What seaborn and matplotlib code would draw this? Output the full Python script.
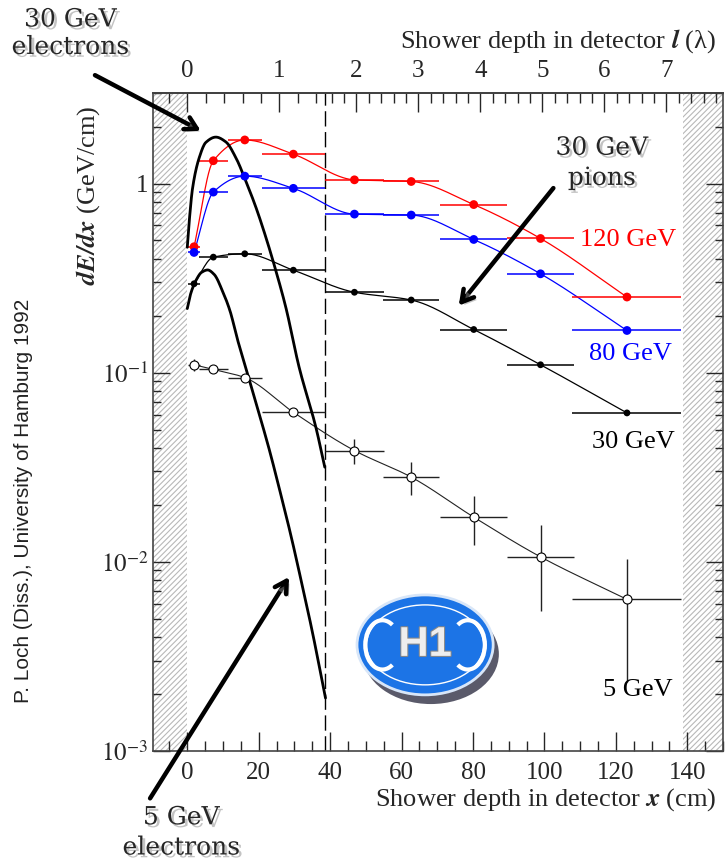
import numpy as np
import pandas as pd
import matplotlib
matplotlib.use('Agg')
import matplotlib.pyplot as plt
import matplotlib.patheffects as pe
from matplotlib.patches import Ellipse, Arc
from matplotlib.ticker import (FixedLocator, FixedFormatter, MultipleLocator,
                               AutoMinorLocator, LogLocator, NullFormatter)
import seaborn as sns

# pion data (bin centres in cm, half bin widths)
depth = [1.9, 7.3, 16.1, 29.7, 46.8, 62.7, 80.2, 98.9, 123.1]
depth_err = [1.75, 4.0, 4.75, 8.85, 8.15, 7.8, 9.45, 9.25, 15.25]
pion_120 = [0.463, 1.32, 1.70, 1.43, 1.046, 1.025, 0.774, 0.512, 0.251]
pion_80 = [0.432, 0.901, 1.094, 0.943, 0.689, 0.681, 0.506, 0.333, 0.167]
pion_30 = [0.295, 0.408, 0.425, 0.348, 0.266, 0.242, 0.169, 0.110, 0.0612]
pion_5 = [0.110, 0.104, 0.0941, 0.0617, 0.0387, 0.028, 0.0172, 0.0106, 0.00632]
pion_5_err = [0.008, 0.003, 0.004, 0.002, 0.0057, 0.0055, 0.005, 0.0051, 0.004]

# electron shower curves
elec30_x = [0, 0.56, 1.5, 3.35, 5.2, 8.0, 10.8, 13.6, 16.4, 19.2, 22.0, 24.8, 27.6, 31.3, 36.0, 38.5]
elec30_y = [0.46, 0.635, 0.95, 1.37, 1.65, 1.76, 1.66, 1.37, 1.03, 0.75, 0.52, 0.346, 0.221, 0.107, 0.0514, 0.0316]
elec5_x = [0, 1, 2.5, 4, 5.7, 7.5, 10, 12, 14, 16, 18, 20, 23, 26, 29, 32, 35, 38.7]
elec5_y = [0.218, 0.263, 0.309, 0.339, 0.349, 0.331, 0.266, 0.211, 0.151, 0.112, 0.0832,
           0.0617, 0.0389, 0.0234, 0.0138, 0.00776, 0.00427, 0.0019]

lam_ticks = [0, 1, 2, 3, 4, 5, 6, 7]
y_ticks = [1e-3, 1e-2, 1e-1, 1]
y_tick_labels = ['$10^{-3}$', '$10^{-2}$', '$10^{-1}$', '1']


def pchip(x, y, n=300):
    x = np.asarray(x, float)
    y = np.asarray(y, float)
    h = np.diff(x)
    d = np.diff(y) / h
    m = np.empty_like(y)
    m[0], m[-1] = d[0], d[-1]
    for k in range(1, len(x) - 1):
        if d[k - 1] * d[k] <= 0:
            m[k] = 0.0
        else:
            w1 = 2 * h[k] + h[k - 1]
            w2 = h[k] + 2 * h[k - 1]
            m[k] = (w1 + w2) / (w1 / d[k - 1] + w2 / d[k])
    xs = np.linspace(x[0], x[-1], n)
    i = np.clip(np.searchsorted(x, xs) - 1, 0, len(x) - 2)
    t = (xs - x[i]) / h[i]
    ys = ((2 * t**3 - 3 * t**2 + 1) * y[i] + (t**3 - 2 * t**2 + t) * h[i] * m[i]
          + (-2 * t**3 + 3 * t**2) * y[i + 1] + (t**3 - t**2) * h[i] * m[i + 1])
    return xs, ys


def log_curve(x, y):
    xs, ly = pchip(x, np.log10(y))
    return xs, 10**ly


def to_lam(x):
    x = np.asarray(x, float)
    return np.where(x < 38.7, x / 25.8, 1.5 + (x - 38.7) / 17.35)


def to_cm(l):
    l = np.asarray(l, float)
    return np.where(l < 1.5, l * 25.8, 38.7 + (l - 1.5) * 17.35)


sns.set_theme(style='ticks')
plt.rcParams['font.family'] = ['Liberation Serif', 'DejaVu Serif']
plt.rcParams['mathtext.fontset'] = 'stix'
plt.rcParams['hatch.color'] = '#b8b8b8'
plt.rcParams['hatch.linewidth'] = 0.8

fig = plt.figure(figsize=(7.25, 8.64), dpi=100)
ax = fig.add_axes([0.2115, 0.1311, 0.7858, 0.7609])
ax.set_yscale('log')
ax.set_xlim(-9.5, 150)
ax.set_ylim(1e-3, 3)

# hatched dead regions
ax.axvspan(-9.5, 0, facecolor='none', edgecolor='#b8b8b8', hatch='//////', lw=0, zorder=0)
ax.axvspan(138.8, 150, facecolor='none', edgecolor='#b8b8b8', hatch='//////', lw=0, zorder=0)
ax.axvline(38.7, color='black', lw=1.0, dashes=(11, 4), zorder=1)

df = pd.DataFrame({
    'depth': depth * 3,
    'dedx': pion_120 + pion_80 + pion_30,
    'energy': ['120 GeV'] * len(depth) + ['80 GeV'] * len(depth) + ['30 GeV'] * len(depth),
})
colors = {'120 GeV': '#ff0000', '80 GeV': '#0000ff', '30 GeV': '#000000'}

for name, grp in df.groupby('energy'):
    c = colors[name]
    xs, ys = log_curve(grp['depth'], grp['dedx'])
    sns.lineplot(x=xs, y=ys, ax=ax, color=c, lw=0.9, estimator=None, sort=False, zorder=2)
    ax.errorbar(grp['depth'], grp['dedx'], xerr=depth_err, fmt='none', ecolor=c, elinewidth=1.1, zorder=3)

sns.scatterplot(data=df[df['energy'] != '30 GeV'], x='depth', y='dedx', hue='energy',
                palette=colors, s=40, edgecolor='none', legend=False, ax=ax, zorder=4)
sns.scatterplot(data=df[df['energy'] == '30 GeV'], x='depth', y='dedx', color='black',
                s=24, edgecolor='none', legend=False, ax=ax, zorder=4)

# 5 GeV pions
xs, ys = log_curve(depth, pion_5)
sns.lineplot(x=xs, y=ys, ax=ax, color='#222222', lw=0.8, estimator=None, sort=False, zorder=2)
ax.errorbar(depth, pion_5, xerr=depth_err, yerr=pion_5_err, fmt='none', ecolor='#222222',
            elinewidth=1.0, zorder=3)
sns.scatterplot(x=depth, y=pion_5, ax=ax, s=42, color='white', edgecolor='black',
                linewidth=0.8, zorder=5)

# electron curves
xs, ys = log_curve(elec30_x, elec30_y)
sns.lineplot(x=xs, y=ys, ax=ax, color='black', lw=2.0, estimator=None, sort=False, zorder=3)
xs, ys = log_curve(elec5_x, elec5_y)
sns.lineplot(x=xs, y=ys, ax=ax, color='black', lw=2.0, estimator=None, sort=False, zorder=3)

# axes styling
ax.xaxis.set_major_locator(MultipleLocator(20))
ax.xaxis.set_minor_locator(MultipleLocator(5))
ax.yaxis.set_major_locator(FixedLocator(y_ticks))
ax.yaxis.set_major_formatter(FixedFormatter(y_tick_labels))
ax.yaxis.set_minor_locator(LogLocator(base=10, subs=np.arange(2, 10)))
ax.yaxis.set_minor_formatter(NullFormatter())
ax.tick_params(axis='x', which='major', direction='in', length=14, width=1, top=False, labelsize=18, pad=8)
ax.tick_params(axis='x', which='minor', direction='in', length=7.5, width=1, top=False)
ax.tick_params(axis='y', which='major', direction='in', length=12, width=1, right=True, labelsize=18)
ax.tick_params(axis='y', which='minor', direction='in', length=6, width=1, right=True)
for s in ax.spines.values():
    s.set_color('#444444')
    s.set_linewidth(1.2)

ax.set_xlabel(r'Shower depth in detector $\mathbfit{x}$ (cm)', fontsize=19, x=0.988, ha='right', labelpad=2)
ax.set_ylabel(r'$\mathbfit{dE/dx}$ (GeV/cm)', fontsize=19)
ax.yaxis.set_label_coords(-0.09, 0.845)

secax = ax.secondary_xaxis('top', functions=(to_lam, to_cm))
secax.xaxis.set_major_locator(FixedLocator(lam_ticks))
secax.xaxis.set_minor_locator(AutoMinorLocator(5))
secax.tick_params(which='major', direction='in', length=14, width=1, labelsize=18, pad=8)
secax.tick_params(which='minor', direction='in', length=7.5, width=1)
secax.set_xlabel('Shower depth in detector $\\mathbfit{l}$ (λ)', fontsize=19, x=0.988, ha='right',
                 labelpad=9)

# energy labels
ax.text(123.5, 0.50, '120 GeV', color='#ff0000', fontsize=19, ha='center', va='center')
ax.text(124.0, 0.125, '80 GeV', color='#0000ff', fontsize=19, ha='center', va='center')
ax.text(124.9, 0.043, '30 GeV', color='black', fontsize=19, ha='center', va='center')
ax.text(126.0, 0.0021, '5 GeV', color='black', fontsize=19, ha='center', va='center')

shadow = [pe.withSimplePatchShadow(offset=(2, -2), shadow_rgbFace='#888888', alpha=0.5)]
arrow = dict(arrowstyle='->, head_length=0.7, head_width=0.4', lw=3.2, color='black',
             shrinkA=0, shrinkB=0)

fig.text(0.097, 0.961, '30 GeV\nelectrons', ha='center', va='center', fontsize=18,
         family='DejaVu Serif', linespacing=1.25, path_effects=shadow)
a = ax.annotate('', xy=(3.8, 1.9), xytext=(0.131, 0.913), textcoords='figure fraction',
                arrowprops=arrow, annotation_clip=False)
a.arrow_patch.set_path_effects(shadow)

fig.text(0.83, 0.811, '30 GeV\npions', ha='center', va='center', fontsize=18,
         family='DejaVu Serif', linespacing=1.4, path_effects=shadow)
a = ax.annotate('', xy=(76, 0.226), xytext=(102.5, 0.946), arrowprops=arrow)
a.arrow_patch.set_path_effects(shadow)

fig.text(0.25, 0.036, '5 GeV\nelectrons', ha='center', va='center', fontsize=18,
         family='DejaVu Serif', linespacing=1.4, path_effects=shadow)
a = ax.annotate('', xy=(28.5, 0.0083), xytext=(0.207, 0.076), textcoords='figure fraction',
                arrowprops=arrow, annotation_clip=False)
a.arrow_patch.set_path_effects(shadow)

fig.text(0.032, 0.42, 'P. Loch (Diss.), University of Hamburg 1992', rotation=90,
         ha='center', va='center', fontsize=15, family='Liberation Sans', color='#222222')

# H1 logo
cx, cy, w, h = 0.477, 0.161, 0.239, 0.152
ax.add_patch(Ellipse((cx + 0.01, cy - 0.014), w, h, transform=ax.transAxes,
                     facecolor='#5a5a6a', edgecolor='none', zorder=6))
ax.add_patch(Ellipse((cx, cy), w, h, transform=ax.transAxes,
                     facecolor='#1c74e6', edgecolor='#d8e6f8', lw=2, zorder=7))
ax.add_patch(Ellipse((cx, cy), w * 0.86, h * 0.8, transform=ax.transAxes,
                     facecolor='none', edgecolor='white', lw=1.0, zorder=8))
ax.add_patch(Arc((cx - 0.075, cy), 0.06, 0.075, theta1=60, theta2=300, transform=ax.transAxes,
                 color='white', lw=3, zorder=8))
ax.add_patch(Arc((cx + 0.075, cy), 0.06, 0.075, theta1=240, theta2=480, transform=ax.transAxes,
                 color='white', lw=3, zorder=8))
ax.text(cx, cy, 'H1', transform=ax.transAxes, ha='center', va='center', fontsize=30,
        fontweight='bold', family='Liberation Sans', color='#eeeeee', zorder=9,
        path_effects=[pe.withStroke(linewidth=1.5, foreground='#888888')])

fig.savefig('out.png', dpi=100)
